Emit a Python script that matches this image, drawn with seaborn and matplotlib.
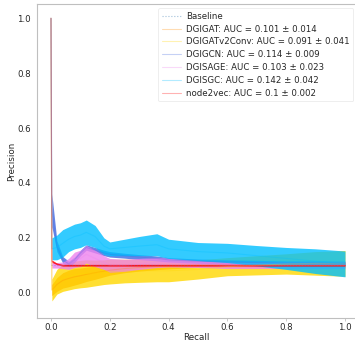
import numpy as np
import pandas as pd
import matplotlib
matplotlib.use("Agg")
import matplotlib.pyplot as plt
import seaborn as sns

models = ["DGIGAT", "DGIGATv2Conv", "DGIGCN", "DGISAGE", "DGISGC", "node2vec"]
auc_mean = [0.101, 0.091, 0.114, 0.103, 0.142, 0.1]
auc_std = [0.014, 0.041, 0.009, 0.023, 0.042, 0.002]
colors = ["darkorange", "gold", "royalblue", "violet", "deepskyblue", "red"]

recall = [0.0, 0.003, 0.02, 0.04, 0.06, 0.08, 0.1, 0.12, 0.15, 0.18, 0.2,
          0.25, 0.3, 0.36, 0.4, 0.5, 0.6, 0.7, 0.8, 0.9, 1.0]

prec_dgigat = [1.0, 0.01, 0.03, 0.045, 0.052, 0.058, 0.062, 0.067, 0.073, 0.078, 0.082,
               0.088, 0.092, 0.095, 0.097, 0.1, 0.1, 0.1, 0.1, 0.1, 0.1]
std_dgigat = [0.0, 0.02, 0.025, 0.028, 0.03, 0.03, 0.028, 0.026, 0.024, 0.02, 0.018,
              0.015, 0.013, 0.011, 0.01, 0.008, 0.008, 0.008, 0.008, 0.008, 0.008]

prec_dgigatv2 = [1.0, 0.01, 0.04, 0.055, 0.06, 0.065, 0.068, 0.07, 0.072, 0.075, 0.077,
                 0.079, 0.08, 0.08, 0.08, 0.085, 0.095, 0.1, 0.105, 0.107, 0.107]
std_dgigatv2 = [0.0, 0.04, 0.045, 0.05, 0.05, 0.05, 0.05, 0.05, 0.047, 0.045, 0.045,
                0.043, 0.042, 0.04, 0.04, 0.035, 0.033, 0.035, 0.037, 0.043, 0.047]

prec_dgigcn = [1.0, 0.3, 0.17, 0.12, 0.105, 0.12, 0.145, 0.165, 0.155, 0.145, 0.14,
               0.135, 0.13, 0.125, 0.12, 0.115, 0.112, 0.11, 0.108, 0.108, 0.107]
std_dgigcn = [0.0, 0.06, 0.02, 0.012, 0.01, 0.01, 0.01, 0.01, 0.01, 0.01, 0.01,
              0.009, 0.009, 0.009, 0.008, 0.008, 0.008, 0.008, 0.008, 0.008, 0.008]

prec_dgisage = [1.0, 0.1, 0.1, 0.1, 0.105, 0.12, 0.125, 0.14, 0.125, 0.11, 0.1,
                0.1, 0.105, 0.11, 0.11, 0.105, 0.1, 0.1, 0.1, 0.1, 0.1]
std_dgisage = [0.0, 0.01, 0.01, 0.012, 0.02, 0.028, 0.03, 0.032, 0.03, 0.025, 0.025,
               0.022, 0.02, 0.018, 0.016, 0.013, 0.012, 0.012, 0.012, 0.012, 0.012]

prec_dgisgc = [1.0, 0.16, 0.165, 0.18, 0.195, 0.205, 0.21, 0.22, 0.205, 0.17, 0.16,
               0.165, 0.17, 0.175, 0.16, 0.15, 0.145, 0.135, 0.125, 0.115, 0.105]
std_dgisgc = [0.0, 0.04, 0.045, 0.05, 0.045, 0.045, 0.045, 0.045, 0.04, 0.03, 0.025,
              0.03, 0.035, 0.04, 0.035, 0.033, 0.035, 0.037, 0.04, 0.045, 0.047]

prec_node2vec = [1.0, 0.115, 0.105, 0.1, 0.1, 0.1, 0.1, 0.1, 0.1, 0.1, 0.1,
                 0.1, 0.1, 0.1, 0.1, 0.1, 0.1, 0.1, 0.1, 0.1, 0.1]
std_node2vec = [0.0, 0.004, 0.003, 0.003, 0.003, 0.003, 0.003, 0.003, 0.003, 0.003, 0.003,
                0.003, 0.003, 0.003, 0.003, 0.003, 0.003, 0.003, 0.003, 0.003, 0.003]

baseline_x = [0.0, 1.0]
baseline_y = [0.1, 0.1]

precisions = [prec_dgigat, prec_dgigatv2, prec_dgigcn, prec_dgisage, prec_dgisgc, prec_node2vec]
stds = [std_dgigat, std_dgigatv2, std_dgigcn, std_dgisage, std_dgisgc, std_node2vec]

sns.set_theme(style="whitegrid")
plt.rcParams["font.family"] = ["DejaVu Sans"]

fig = plt.figure(figsize=(3.55, 3.43), dpi=100)
ax = fig.add_axes([37 / 355, 25 / 343, 318 / 355, 314 / 343])
ax.grid(False)

sns.lineplot(x=baseline_x, y=baseline_y, ax=ax, color="steelblue", alpha=0.5,
             linestyle=":", linewidth=0.8, label="Baseline")

for name, m, s, c, p, sd in zip(models, auc_mean, auc_std, colors, precisions, stds):
    r = np.array(recall)
    p = np.array(p)
    sd = np.array(sd)
    ax.fill_between(r[1:], p[1:] - sd[1:], p[1:] + sd[1:], color=c, alpha=0.8, linewidth=0)
    df = pd.DataFrame({"Recall": r, "Precision": p})
    sns.lineplot(data=df, x="Recall", y="Precision", ax=ax, color=c, alpha=0.3,
                 linewidth=0.8, sort=False, label=f"{name}: AUC = {m} \u00b1 {s}")

ax.set_xlim(-0.0476, 1.034)
ax.set_ylim(-0.092, 1.052)
ax.set_xticks([0.0, 0.2, 0.4, 0.6, 0.8, 1.0])
ax.set_yticks([0.0, 0.2, 0.4, 0.6, 0.8, 1.0])
ax.tick_params(labelsize=6.2, pad=1.5, length=2, width=0.6, colors=".75", labelcolor=".15")
ax.tick_params(axis="x", bottom=True)
ax.tick_params(axis="y", left=False, pad=2.5)
ax.set_xlabel("Recall", fontsize=6.3, labelpad=0.5, color=".15")
ax.set_ylabel("Precision", fontsize=6.3, labelpad=1.0, color=".15")
for sp in ax.spines.values():
    sp.set_color(".75")
    sp.set_linewidth(0.8)
ax.spines["right"].set_visible(False)

leg = ax.legend(loc="upper right", bbox_to_anchor=(1.0, 0.992), fontsize=6.2,
                frameon=True, borderaxespad=0.2,
                handlelength=2.3, handletextpad=0.55, labelspacing=0.45)
leg.get_frame().set_edgecolor(".9")
leg.get_frame().set_linewidth(0.6)

fig.savefig("out.png", dpi=100)
